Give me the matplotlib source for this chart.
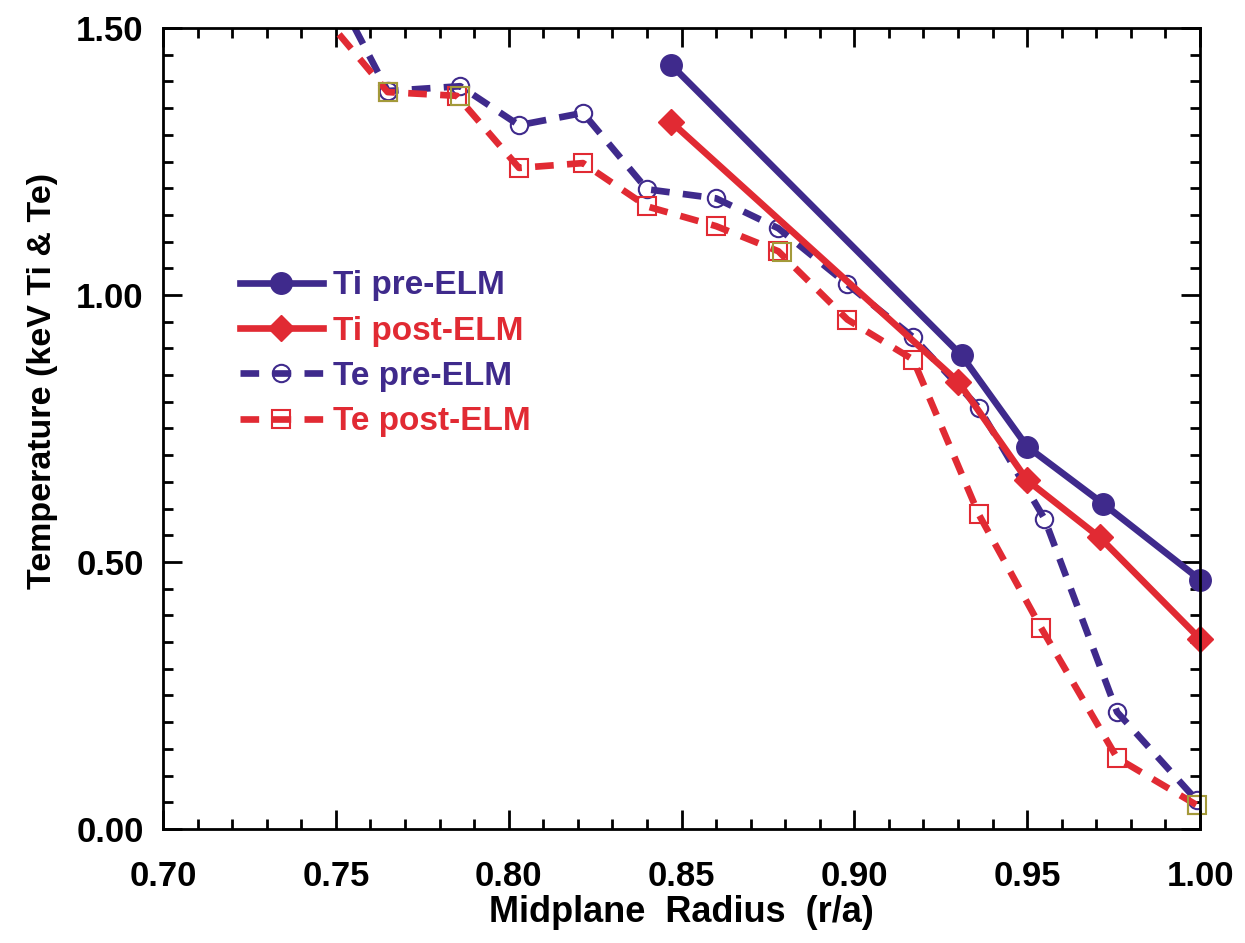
import numpy as np
import matplotlib.pyplot as plt
from matplotlib.ticker import MultipleLocator, FormatStrFormatter

plt.rcParams['font.family'] = ['Liberation Sans', 'DejaVu Sans']
plt.rcParams['font.weight'] = 'bold'
plt.rcParams['axes.labelweight'] = 'bold'

purple = '#3f2a8c'
red = '#e12a33'
olive = '#a39a3a'

# Ti profiles
ti_r = [0.847, 0.931, 0.950, 0.972, 1.000]
ti_pre = [1.431, 0.887, 0.716, 0.609, 0.467]
ti_r_post = [0.847, 0.930, 0.950, 0.971, 1.000]
ti_post = [1.324, 0.838, 0.653, 0.546, 0.356]

# Te profiles
te_r = [0.745, 0.765, 0.786, 0.803, 0.8215, 0.840, 0.860, 0.878, 0.898,
        0.917, 0.936, 0.955, 0.976, 0.999]
te_pre = [1.63, 1.382, 1.391, 1.318, 1.341, 1.198, 1.181, 1.125, 1.020,
          0.921, 0.789, 0.581, 0.219, 0.054]
te_r_post = [0.745, 0.765, 0.785, 0.803, 0.8215, 0.840, 0.860, 0.878, 0.898,
             0.917, 0.936, 0.954, 0.976, 0.999]
te_post = [1.534, 1.380, 1.373, 1.238, 1.247, 1.166, 1.129, 1.082, 0.954,
           0.879, 0.589, 0.377, 0.133, 0.045]

# extra olive squares and stray red dots
ol_r = [0.765, 0.786, 0.879, 0.999]
ol_t = [1.380, 1.373, 1.080, 0.045]
dot_r = [1.0135] * 5
dot_t = [1.464, 1.202, 1.054, 0.789, 0.171]

fig = plt.figure(figsize=(12.45, 9.43), dpi=100)
ax = fig.add_axes([0.1309, 0.1209, 0.833, 0.8494])

dash = (0, (2.8, 2.0))
ax.plot(te_r, te_pre, color=purple, lw=4.8, ls=dash,
        marker='o', ms=12.5, mfc='none', mec=purple, mew=1.5, label='Te pre-ELM')
ax.plot(te_r_post, te_post, color=red, lw=4.8, ls=dash,
        marker='s', ms=12.5, mfc='none', mec=red, mew=1.5, label='Te post-ELM')
ax.plot(ol_r, ol_t, ls='none', marker='s', ms=12.5, mfc='none', mec=olive,
        mew=1.5, clip_on=False)
ax.plot(ti_r, ti_pre, color=purple, lw=4.8, marker='o', ms=15.5,
        label='Ti pre-ELM', clip_on=False)
ax.plot(ti_r_post, ti_post, color=red, lw=4.8, marker='D', ms=13.5,
        label='Ti post-ELM', clip_on=False)
ax.plot(dot_r, dot_t, ls='none', marker='o', ms=2, color=red, clip_on=False)

ax.set_xlim(0.70, 1.00)
ax.set_ylim(0.0, 1.50)
ax.xaxis.set_major_locator(MultipleLocator(0.05))
ax.xaxis.set_minor_locator(MultipleLocator(0.01))
ax.yaxis.set_major_locator(MultipleLocator(0.5))
ax.yaxis.set_minor_locator(MultipleLocator(0.05))
ax.xaxis.set_major_formatter(FormatStrFormatter('%.2f'))
ax.yaxis.set_major_formatter(FormatStrFormatter('%.2f'))
ax.tick_params(which='both', direction='in', top=True, right=True, width=2,
               labelsize=25)
ax.tick_params(axis='x', pad=22)
ax.tick_params(axis='y', pad=14)
ax.tick_params(which='major', length=14)
ax.tick_params(which='minor', length=7)
for s in ax.spines.values():
    s.set_linewidth(2)

ax.set_xlabel('Midplane  Radius  (r/a)', fontsize=26, labelpad=2)
ax.set_ylabel('Temperature (keV Ti & Te)', fontsize=24.5)
ax.yaxis.set_label_coords(-0.101, 0.559)

handles, labels = ax.get_legend_handles_labels()
order = [2, 3, 0, 1]
leg = ax.legend([handles[i] for i in order], [labels[i] for i in order],
                loc='upper left', bbox_to_anchor=(0.045, 0.735), frameon=False,
                fontsize=24, handlelength=2.5, labelspacing=0.43,
                handletextpad=0.3, labelcolor='linecolor')

fig.savefig('out.png', dpi=100)
